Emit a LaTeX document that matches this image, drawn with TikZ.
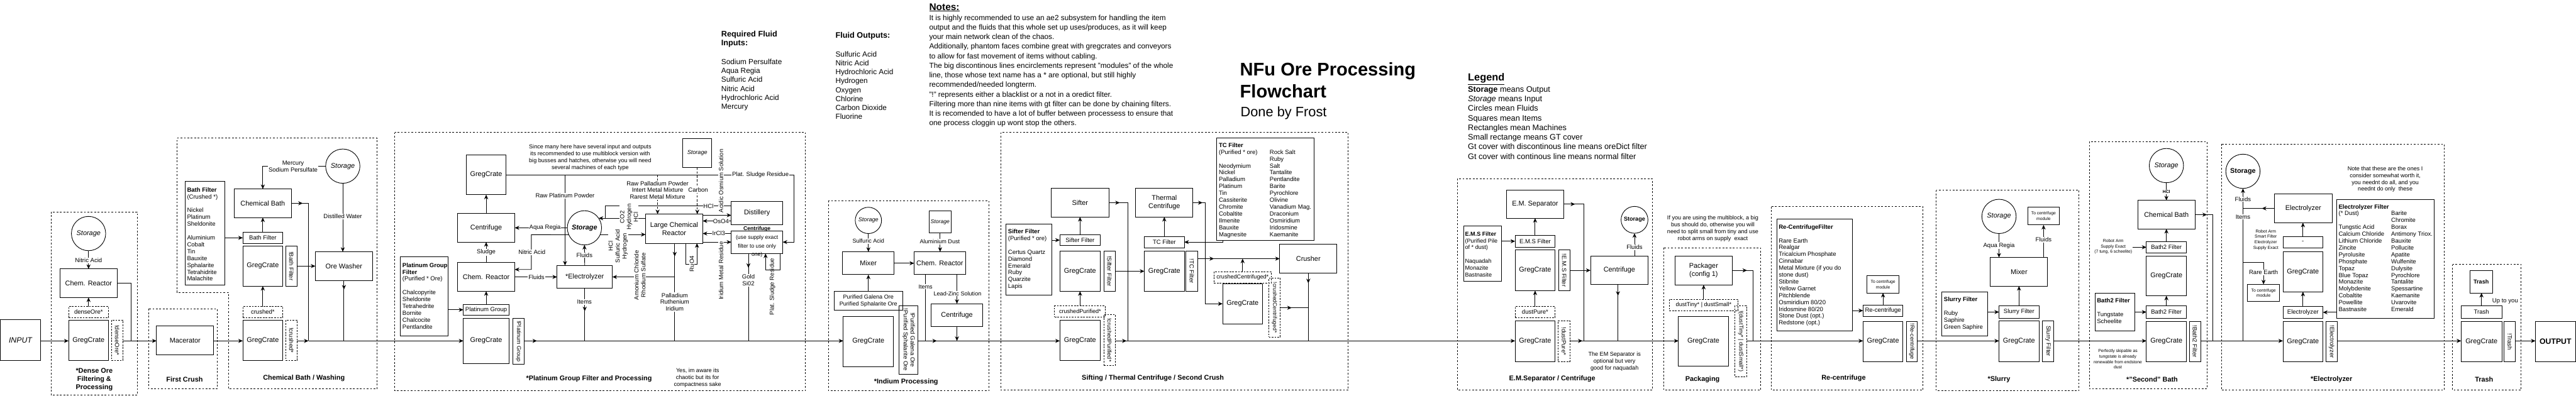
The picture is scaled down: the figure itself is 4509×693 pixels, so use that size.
\documentclass[tikz,border=0pt]{standalone}
\usepackage{fontspec}
\setmainfont{Liberation Sans}
\usetikzlibrary{arrows.meta,decorations.markings}
\newcommand{\myfs}[2]{\fontsize{#1}{#2}\selectfont}
\newcommand{\NB}[7]{%
  \pgfmathsetmacro\nbw{#4-#2}\pgfmathsetmacro\nbh{#5-#3}%
  \pgfmathsetmacro\nbx{(#2+#4)/2}\pgfmathsetmacro\nby{(#3+#5)/2}%
  \node[#6, minimum width=\nbw pt, minimum height=\nbh pt] (#1) at (\nbx,\nby) {#7};}
\newcommand{\RT}[3]{\node[rot,#3] (#1t) at (#1.center) {#2};}
\begin{document}
\begin{tikzpicture}[x=1pt,y=-1pt,line width=1pt,
 bx/.style={draw,line width=1pt,inner sep=1pt,outer sep=0pt,align=center,font=\myfs{12}{14.5}},
 cov/.style={draw,line width=1pt,inner sep=0.5pt,outer sep=0pt,align=center,font=\myfs{10.5}{12}},
 dcov/.style={cov,dash pattern=on 3pt off 2pt},
 grp/.style={draw,line width=0.9pt,dash pattern=on 3pt off 3pt},
 stc/.style={draw,circle,line width=1pt,inner sep=0pt,outer sep=0pt,font=\myfs{12}{14}\itshape},
 arr/.style={-{Stealth[length=8pt,width=7pt]}},
 marrow/.style={postaction={decorate},decoration={markings,mark=at position #1 with {\arrow{Stealth[length=8pt,width=7pt]}}}},
 lbl/.style={fill=white,inner sep=1pt,align=center,font=\myfs{10.5}{12}},
 rlbl/.style={lbl,rotate=90},
 sec/.style={align=center,font=\myfs{12}{14.5}\bfseries},
 lst/.style={anchor=base west,inner sep=0pt,font=\myfs{10.5}{12}},
 rot/.style={rotate=-90,inner sep=0pt,align=center,font=\myfs{10.5}{12}},
 notetxt/.style={align=center,inner sep=0pt,font=\myfs{10}{12}},
 smalltxt/.style={align=center,inner sep=0pt,font=\myfs{7.5}{9.5}}]
\fill[white] (0,0) rectangle (4509,693);
\useasboundingbox (0,0) rectangle (4509,693);
\coordinate (ML) at (0,597);

% ================= header texts
\node[lst,font=\myfs{14}{16}\bfseries] (rfih) at (1262,64) {\begin{tabular}[t]{@{}l@{}}Required Fluid\\Inputs:\end{tabular}};
\node[lst,font=\myfs{13}{15.7}] (rfil) at (1262,112.6) {\begin{tabular}[t]{@{}l@{}}Sodium Persulfate\\Aqua Regia\\Sulfuric Acid\\Nitric Acid\\Hydrochloric Acid\\Mercury\end{tabular}};
\node[lst,font=\myfs{14}{16}\bfseries] (fouth) at (1462,67) {Fluid Outputs:};
\node[lst,font=\myfs{13}{15.7}] (foutl) at (1462,99.2) {\begin{tabular}[t]{@{}l@{}}Sulfuric Acid\\Nitric Acid\\Hydrochloric Acid\\Hydrogen\\Oxygen\\Chlorine\\Carbon Dioxide\\Fluorine\end{tabular}};
\node[lst,font=\myfs{17}{19}\bfseries] (notesh) at (1626,17.8) {\underline{Notes:}};
\node[lst,font=\myfs{13}{16.8}] (notes) at (1626,35.3) {\begin{tabular}[t]{@{}l@{}}It is highly recommended to use an ae2 subsystem for handling the item\\output and the fluids that this whole set up uses/produces, as it will keep\\your main network clean of the chaos.\\Additionally, phantom faces combine great with gregcrates and conveyors\\to allow for fast movement of items without cabling.\\The big discontinous lines encirclements represent "modules" of the whole\\line, those whose text name has a * are optional, but still highly\\recommended/needed longterm.\\"!" represents either a blacklist or a not in a oredict filter.\\Filtering more than nine items with gt filter can be done by chaining filters.\\It is recomended to have a lot of buffer between processess to ensure that\\one process cloggin up wont stop the others.\end{tabular}};
\node[lst,font=\myfs{32}{38}\bfseries] (title) at (2170,133) {\begin{tabular}[t]{@{}l@{}}NFu Ore Processing\\Flowchart\end{tabular}};
\node[lst,font=\myfs{24}{28}] (subt) at (2171,204) {Done by Frost};
\node[lst,font=\myfs{18}{20}\bfseries] (legh) at (2569,142) {\underline{Legend}};
\node[lst,font=\myfs{14}{16.8}] (legl) at (2569,161) {\begin{tabular}[t]{@{}l@{}}\textbf{Storage} means Output\\\textit{Storage} means Input\\Circles mean Fluids\\Squares mean Items\\Rectangles mean Machines\\Small rectange means GT cover\\Gt cover with discontinous line means oreDict filter\\Gt cover with continous line means normal filter\end{tabular}};

% ================= 1 Dense ore
\NB{input}{0.5}{560}{71}{631}{bx,font=\myfs{13.5}{15}\itshape}{INPUT}
\draw[grp] (90,371) rectangle (240,692);
\node[stc,minimum size=60pt] (st1) at (155,409) {Storage};
\NB{cr1}{105}{471}{205}{521}{bx}{Chem. Reactor}
\NB{f1}{120}{537}{190}{556}{dcov}{denseOre*}
\NB{gc1}{120}{561}{190}{631}{bx}{GregCrate}
\NB{nf1}{195}{561}{215}{631}{dcov}{}
\RT{nf1}{!denseOre*}{}
\node[sec] (s1) at (165,665) {*Dense Ore\\Filtering \&\\Processing};
\draw[arr] (st1.south) -- (cr1.north);
\node[lbl] (l1) at (155,456) {Nitric Acid};
\draw[arr] (f1.north) -- (cr1.south);
\coordinate (j1) at (230,597);
\draw (cr1.east) -| (j1);

% ================= 2 First crush
\draw[grp] (260,541) rectangle (380,681);
\NB{mac}{274}{571}{374}{621}{bx}{Macerator}
\node[sec] (s2) at (323,664) {First Crush};

% ================= 3 Chemical bath
\draw[grp] (310,242) -- (660,242) -- (660,681) -- (400,681) -- (400,512) -- (310,512) -- cycle;
\NB{bfl}{324}{318}{394}{499}{bx}{}
\node[lst] (bflt) at (327,336) {\begin{tabular}[t]{@{}l@{}}\textbf{Bath Filter}\\(Crushed *)\\ \\Nickel\\Platinum\\Sheldonite\\ \\Aluminium\\Cobalt\\Tin\\Bauxite\\Sphalarite\\Tetrahidrite\\Malachite\end{tabular}};
\NB{cb}{410}{331}{510}{381}{bx}{Chemical Bath}
\node[stc,minimum size=60pt] (st2) at (600,291) {Storage};
\NB{bfc}{425}{407}{495}{426}{cov}{Bath Filter}
\NB{gc2}{425}{431}{495}{501}{bx}{GregCrate}
\NB{nbf}{500}{431}{520}{501}{cov}{}
\RT{nbf}{!Bath Filter}{}
\NB{ow}{552}{441}{652}{491}{bx}{Ore Washer}
\NB{f2}{425}{537}{495}{556}{dcov}{crushed*}
\NB{gc3}{425}{561}{495}{631}{bx}{GregCrate}
\NB{ncr}{500}{561}{520}{631}{dcov}{}
\RT{ncr}{!crushed*}{}
\node[sec] (s3) at (532,662) {Chemical Bath / Washing};
\draw[arr] (st2.west) -| (cb.north);
\node[lbl] (l2) at (513,291) {Mercury\\Sodium Persulfate};
\draw[arr] (st2.south) -- (st2.south |- ow.north);
\node[lbl] (l3) at (600,379) {Distilled Water};
\draw[arr] (bfl.east |- bfc.west) -- (bfc.west);
\draw[arr] (bfc.north) -- (cb.south);
\draw[arr] (nbf.east) -- (ow.west);
\draw[arr] (f2.north) -- (gc2.south);
\coordinate (j2) at (540,597);
\draw[marrow=20pt] (cb.east) -| (j2);
\draw[marrow=16pt] (ow.south) -- (ow.south |- ML);

% ================= 4 Platinum group
\draw[grp] (691,232) rectangle (1410,684);
\NB{gc4t}{816}{271}{886}{341}{bx}{GregCrate}
\NB{cf4}{801}{374}{901}{424}{bx}{Centrifuge}
\NB{cr4}{801}{460}{901}{510}{bx}{Chem. Reactor}
\NB{pgc}{811}{533}{891}{552}{cov}{Platinum Group}
\NB{pgl}{701}{450}{784}{588}{bx}{}
\node[lst] (pglt) at (704,468) {\begin{tabular}[t]{@{}l@{}}\textbf{Platinum Group}\\\textbf{Filter}\\(Purified * Ore)\\ \\Chalcopyrite\\Sheldonite\\Tetrahedrite\\Bornite\\Chalcocite\\Pentlandite\end{tabular}};
\NB{gc4}{811}{557}{891}{637}{bx}{GregCrate}
\NB{npg}{898}{558}{917}{638}{cov}{}
\RT{npg}{!Platinum Group}{font=\myfs{10}{12}}
\node[stc,minimum size=60pt,font=\myfs{12}{14}\bfseries\itshape] (st4) at (1023,399) {Storage};
\NB{el4}{975}{465}{1072}{505}{bx}{*Electrolyzer}
\NB{lcr}{1130}{375}{1230}{426}{bx}{Large Chemical\\Reactor}
\NB{dist}{1280}{353}{1370}{393}{bx}{Distillery}
\NB{cf42}{1280}{404}{1370}{444}{bx}{}
\node[align=center,inner sep=0pt,font=\myfs{9.5}{15}] (cf42t) at (1325,424) {\textbf{Centrifuge}\\(use supply exact\\filter to use only\\one)};
\NB{sq4}{1195}{243}{1246}{293}{bx,font=\myfs{10}{12}\itshape}{Storage}
\node[notetxt] (n4) at (1033,276) {Since many here have several input and outputs\\its recommended to use multiblock version with\\big busses and hatches, otherwise you will need\\several machines of each type};
\node[sec] (s4) at (1031,664) {*Platinum Group Filter and Processing};
\node[notetxt] (n4b) at (1221,662) {Yes, im aware its\\chaotic but its for\\compactness sake};
\draw[arr] (cf4.north) -- (gc4t.south);
\draw[arr] (cr4.north) -- (cf4.south);
\node[lbl] (l4) at (851,442) {Sludge};
\draw[arr] (pgc.north) -- (cr4.south);
\draw[arr] (pgl.east |- pgc.west) -- (pgc.west);
\draw[arr] (st4.west) -- (cf4.east);
\node[lbl] (l5) at (954,399) {Aqua Regia};
\coordinate (nA) at (930,411);
\coordinate (nB) at (930,472);
\draw[arr] (st4.204) -- (nA) -- (nB) -- (cr4.east |- nB);
\node[lbl] (l6) at (931,442) {Nitric Acid};
\draw[arr] (cr4.east) -- (el4.west);
\node[lbl] (l7) at (939,486) {Fluids};
\draw[arr] (el4.north) -- (st4.south);
\node[lbl] (l8) at (1023,447) {Fluids};
\draw[marrow=40pt] (el4.south) -- (el4.south |- ML);
\node[lbl] (l9) at (1023,529) {Items};
\coordinate (tl) at (1390,306);
\draw[arr] (gc4t.east) -- (tl) |- (cf42.east);
\coordinate (rpp) at (989,306);
\draw[arr] (rpp) -- (rpp |- el4.north);
\node[lbl] (l10) at (989,343) {Raw Platinum Powder};
\coordinate (rpd) at (1151,306);
\draw[arr,dash pattern=on 4pt off 3pt] (rpd) -- (rpd |- lcr.north);
\draw[arr,dash pattern=on 4pt off 3pt] (sq4.south) -- (sq4.south |- lcr.north);
\node[lbl] (l11) at (1151,333) {Raw Palladium Powder\\Intert Metal Mixture\\Rarest Metal Mixture};
\node[lbl] (l12) at (1222,333) {Carbon};
\draw[arr] (st4.-23) -- (lcr.west |- st4.-23);
\node[rlbl] (l13) at (1082,431) {HCl\\Sulfuric Acid\\Hydrogen};
\draw[arr] (lcr.west |- st4.34) -- (st4.34);
\coordinate (hA) at (1060,361);
\coordinate (hB) at (1060,382);
\draw (dist.west |- hA) -- (hA) -- (hB);
\node[rlbl] (l14) at (1101,380) {CO2\\Hydrogen\\HCl};
\node[lbl] (l15) at (1240,361) {HCl};
\draw[arr] (lcr.east |- 0,377) -- (dist.west |- 0,377);
\draw[arr] (dist.west |- 0,387) -- (lcr.east |- 0,387);
\draw[arr] (cf42.west |- 0,409) -- (lcr.east |- 0,409);
\draw[arr] (lcr.east |- 0,424) -- (cf42.west |- 0,424);
\node[lbl] (l16) at (1331,306) {Plat. Sludge Residue};
\node[rlbl] (l17) at (1262,317) {Acidic Osmium Solution};
\node[lbl,inner sep=0.5pt] (l18) at (1262,388) {OsO4};
\node[lbl,inner sep=0.5pt] (l19) at (1258,409) {IrCl3};
\node[rlbl] (l20) at (1262,474) {Iridium Metal Residue};
\coordinate (ru1) at (1200,463);
\coordinate (ru2) at (1220,463);
\draw[arr] (lcr.south -| ru1) -- (ru1) -- (ru2) -- (lcr.south -| ru2);
\node[rlbl] (l21) at (1211,462) {RuO4};
\coordinate (pd) at (1181,485);
\draw[marrow=23pt] (lcr.south -| pd) -- (pd |- ML);
\draw[arr] (pd) -- (el4.east);
\node[rlbl] (l22) at (1120,482) {Amonium Chloride\\Rhodium Sulfate};
\node[lbl] (l23) at (1181,529) {Palladium\\Ruthenium\\Iridium};
\coordinate (au) at (1310,597);
\draw[marrow=25pt] (cf42.south -| au) -- (au);
\node[lbl] (l24) at (1310,491) {Gold\\Si02};
\coordinate (ps1) at (1365,473);
\coordinate (ps2) at (1340,473);
\draw[arr] (cf42.south -| ps1) -- (ps1) -- (ps2) -- (cf42.south -| ps2);
\node[rotate=90,inner sep=0pt,font=\myfs{10.5}{12}] (l25) at (1352,502) {Plat. Sludge Residue};

% ================= 5 Indium
\draw[grp] (1450,352) rectangle (1731,684);
\node[stc,minimum size=46pt,font=\myfs{10}{12}\itshape] (st5) at (1520,386) {Storage};
\NB{mx5}{1475}{441}{1565}{481}{bx}{Mixer}
\NB{sq5}{1626}{369}{1665}{408}{bx,font=\myfs{9.5}{11}\itshape}{Storage}
\NB{cr5}{1600}{441}{1690}{481}{bx}{Chem. Reactor}
\NB{pgb}{1460}{510}{1580}{543}{bx,font=\myfs{10}{12}}{Purified Galena Ore\\Purified Sphalarite Ore}
\NB{gc5}{1476}{554}{1564}{642}{bx}{GregCrate}
\NB{npu}{1574}{535}{1607}{655}{cov}{}
\RT{npu}{!Purified Galena Ore\\!Purified Sphalarite Ore}{}
\NB{cf5}{1630}{532}{1720}{572}{bx}{Centrifuge}
\node[sec] (s5) at (1586,669) {*Indium Processing};
\draw[arr] (st5.south) -- (mx5.north);
\node[lbl,font=\myfs{10}{12}] (l26) at (1520,422) {Sulfuric Acid};
\draw[arr] (sq5.south) -- (sq5.south |- cr5.north);
\node[lbl,font=\myfs{10}{12}] (l27) at (1645,423) {Aluminium Dust};
\draw[arr] (mx5.east) -- (cr5.west);
\draw[arr] (pgb.north) -- (mx5.south);
\coordinate (it5) at (1620,597);
\draw (cr5.south -| it5) -- (it5);
\node[lbl,font=\myfs{10}{12}] (l28) at (1620,502) {Items};
\draw[arr] (cr5.south -| cf5.north) -- (cf5.north);
\node[lbl,font=\myfs{10}{12}] (l29) at (1676,514) {Lead-Zinc Solution};
\draw[arr] (cf5.south) -- (cf5.south |- ML);

% ================= 6 Sifting
\draw[grp] (1752,232) rectangle (2360,683);
\NB{sfl}{1761}{392}{1841}{517}{bx}{}
\node[lst] (sflt) at (1764,409) {\begin{tabular}[t]{@{}l@{}}\textbf{Sifter Filter}\\(Purified * ore)\\ \\Certus Quartz\\Diamond\\Emerald\\Ruby\\Quarzite\\Lapis\end{tabular}};
\NB{sif}{1840}{330}{1941}{380}{bx}{Sifter}
\NB{sfc}{1855}{411}{1926}{430}{cov}{Sifter Filter}
\NB{gc6}{1855}{440}{1926}{510}{bx}{GregCrate}
\NB{nsf}{1932}{440}{1952}{510}{cov}{}
\RT{nsf}{!Sifter Filter}{}
\NB{cpf}{1846}{536}{1935}{555}{dcov,font=\myfs{10}{12}}{crushedPurified*}
\NB{gc7}{1855}{561}{1926}{631}{bx}{GregCrate}
\NB{ncp}{1932}{551}{1952}{640}{dcov}{}
\RT{ncp}{!crushedPurified*}{font=\myfs{10}{12}}
\NB{tc}{1988}{330}{2088}{380}{bx}{Thermal\\Centrifuge}
\NB{tcc}{2003}{414}{2073}{434}{cov}{TC Filter}
\NB{gc8}{2003}{440}{2073}{510}{bx}{GregCrate}
\NB{ntc}{2076}{440}{2096}{510}{cov}{}
\RT{ntc}{!TC Filter}{}
\NB{tcl}{2130}{242}{2300}{421}{bx}{}
\node[lst] (tclt) at (2133,258) {\begin{tabular}[t]{@{}p{89pt}@{}l@{}}\textbf{TC Filter}&\\(Purified * ore)&Rock Salt\\ &Ruby\\Neodymium&Salt\\Nickel&Tantalite\\Palladium&Pentlandite\\Platinum&Barite\\Tin&Pyrochlore\\Cassiterite&Olivine\\Chromite&Vanadium Mag.\\Cobaltite&Draconium\\Ilmenite&Osmiridium\\Bauxite&Iridosmine\\Magnesite&Kaemanite\end{tabular}};
\NB{ccf}{2125}{476}{2225}{496}{dcov,font=\myfs{10}{12}}{crushedCentrifuged*}
\NB{gc9}{2140}{497}{2210}{567}{bx}{GregCrate}
\NB{ncc}{2221}{487}{2241}{590}{dcov}{}
\RT{ncc}{!crushedCentrifuged*}{font=\myfs{9.5}{11}}
\NB{cru}{2240}{428}{2340}{478}{bx}{Crusher}
\node[sec] (s6) at (2018,662) {Sifting / Thermal Centrifuge / Second Crush};
\draw[arr] (sfl.east |- sfc.west) -- (sfc.west);
\draw[arr] (sfc.north) -- (sfc.north |- sif.south);
\draw[arr] (nsf.east) -- (gc8.west);
\draw[arr] (cpf.north) -- (cpf.north |- gc6.south);
\coordinate (j6) at (1974,597);
\draw[marrow=19pt] (sif.east) -| (j6);
\draw[arr] (tcc.north) -- (tcc.north |- tc.south);
\coordinate (tl1) at (2141,424);
\draw[arr] (tcl.south -| tl1) -- (tl1) -- (tcc.east |- tl1);
\coordinate (tc1) at (2110,355);
\draw[arr,marrow=17pt] (tc.east) -- (tc1) |- (gc9.west);
\draw[arr,marrow=29pt] (ntc.east |- cru.west) -- (cru.west);
\draw[arr] (ccf.north) -- (ccf.north |- cru.west);
\coordinate (j6b) at (2290,539);
\draw[marrow=20pt] (ncc.east |- j6b) -- (j6b);
\draw[marrow=18pt] (cru.south) -- (cru.south |- ML);

% ================= 7 EM separator
\draw[grp] (2551,313) rectangle (2892,683);
\NB{ems}{2637}{333}{2737}{382}{bx}{E.M. Separator}
\NB{emsl}{2562}{396}{2628}{493}{bx}{}
\node[lst,font=\myfs{10}{12}] (emslt) at (2564,413) {\begin{tabular}[t]{@{}l@{}}\textbf{E.M.S Filter}\\(Purified Pile\\of * dust)\\ \\Naquadah\\Monazite\\Bastnasite\end{tabular}};
\NB{emsc}{2652}{412}{2722}{433}{cov}{E.M.S Filter}
\NB{gc10a}{2652}{438}{2722}{509}{bx}{GregCrate}
\NB{nems}{2728}{438}{2748}{509}{cov}{}
\RT{nems}{!E.M.S Filter}{}
\NB{cf7}{2784}{448}{2885}{498}{bx}{Centrifuge}
\node[stc,minimum size=47pt,font=\myfs{10}{12}\bfseries] (st7) at (2861,385) {Storage};
\NB{dpf}{2652}{537}{2722}{556}{dcov}{dustPure*}
\NB{gc10}{2652}{562}{2722}{633}{bx}{GregCrate}
\NB{ndp}{2727}{562}{2748}{633}{dcov}{}
\RT{ndp}{!dustPure*}{}
\node[notetxt] (n7) at (2826,633) {The EM Separator is\\optional but very\\good for naquadah};
\node[sec] (s7) at (2717,664) {E.M.Separator / Centrifuge};
\draw[arr] (emsl.east |- emsc.west) -- (emsc.west);
\draw[arr] (emsc.north) -- (ems.south);
\draw[arr] (nems.east) -- (nems.east -| cf7.west);
\draw[arr] (st7.south |- cf7.north) -- (st7.south);
\node[lbl] (l30) at (2861,433) {Fluids};
\coordinate (c7) at (2832,597);
\draw[marrow=20pt] (cf7.south -| c7) -- (c7);
\coordinate (j7) at (2772,597);
\draw[marrow=20pt] (ems.east) -| (j7);
\draw[arr] (dpf.north) -- (gc10a.south);

% ================= 8 Packaging
\draw[grp] (2912,434) rectangle (3082,683);
\node[notetxt] (n8) at (2998,400) {If you are using the multiblock, a big\\bus should do, otherwise you will\\need to split small from tiny and use\\robot arms on supply\ \ exact};
\NB{pk}{2932}{448}{3032}{499}{bx}{Packager\\(config 1)}
\NB{dtf}{2922}{524}{3042}{544}{dcov,font=\myfs{10}{12}}{dustTiny* | dustSmall*}
\NB{gc11}{2938}{554}{3025}{641}{bx}{GregCrate}
\NB{ndt}{3037}{535}{3057}{660}{dcov}{}
\RT{ndt}{!(dustTiny* | dustSmall*)}{font=\myfs{10}{12}}
\node[sec] (s8) at (2980,665) {Packaging};
\draw[arr] (dtf.north) -- (dtf.north |- pk.south);
\coordinate (j8) at (3069,597);
\draw[marrow=26pt] (pk.east) -| (j8);

% ================= 9 Re-centrifuge
\draw[grp] (3100,362) rectangle (3366,683);
\NB{rcl}{3110}{384}{3242}{580}{bx}{}
\node[lst] (rclt) at (3113,401) {\begin{tabular}[t]{@{}l@{}}\textbf{Re-CentrifugeFilter}\\ \\Rare Earth\\Realgar\\Tricalcium Phosphate\\Cinnabar\\Metal Mixture (if you do\\stone dust)\\Stibnite\\Yellow Garnet\\Pitchblende\\Osmiridium 80/20\\Iridosmine 80/20\\Stone Dust (opt.)\\Redstone (opt.)\end{tabular}};
\NB{rcc}{3261}{534}{3331}{554}{cov}{Re-centrifuge}
\NB{tcm1}{3268}{483}{3324}{513}{bx,font=\myfs{7.5}{9.5}}{To centrifuge\\module}
\NB{gc12}{3261}{563}{3331}{633}{bx}{GregCrate}
\NB{nrc}{3337}{563}{3356}{633}{cov}{}
\RT{nrc}{!Re-centrifuge}{font=\myfs{10}{12}}
\node[sec] (s9) at (3227,662) {Re-centrifuge};
\draw[arr] (rcl.east |- rcc.west) -- (rcc.west);
\draw[arr] (rcc.north) -- (rcc.north |- tcm1.south);

% ================= 10 Slurry
\draw[grp] (3389,333) rectangle (3639,684);
\node[stc,minimum size=60pt] (st10) at (3499,379) {Storage};
\NB{mx10}{3484}{451}{3584}{501}{bx}{Mixer}
\NB{tcm2}{3549}{363}{3605}{394}{bx,font=\myfs{7.5}{9.5}}{To centrifuge\\module}
\NB{sll}{3399}{511}{3479}{588}{bx}{}
\node[lst] (sllt) at (3402,528) {\begin{tabular}[t]{@{}l@{}}\textbf{Slurry Filter}\\ \\Ruby\\Saphire\\Green Saphire\end{tabular}};
\NB{slc}{3499}{536}{3569}{557}{cov}{Slurry Filter}
\NB{gc13}{3499}{562}{3569}{633}{bx}{GregCrate}
\NB{nsl}{3575}{562}{3595}{633}{cov}{}
\RT{nsl}{Slurry Filter}{}
\node[sec] (s10) at (3499,665) {*Slurry};
\draw[arr] (st10.south) -- (st10.south |- mx10.north);
\node[lbl] (l31) at (3499,430) {Aqua Regia};
\draw[arr] (tcm2.south |- mx10.north) -- (tcm2.south);
\node[lbl] (l32) at (3577,420) {Fluids};
\draw[arr] (sll.east |- slc.west) -- (slc.west);
\draw[arr] (slc.north) -- (slc.north |- mx10.south);

% ================= 11 Second bath
\draw[grp] (3657,248) rectangle (3863,681);
\node[stc,minimum size=60pt] (st11) at (3792,290) {Storage};
\NB{cb11}{3742}{351}{3842}{401}{bx}{Chemical Bath}
\NB{b2c1}{3757}{423}{3827}{443}{cov}{Bath2 Filter}
\node[smalltxt] (rb1) at (3699,432) {Robot Arm\\Supply Exact\\(7 tung, 6 scheelite)};
\NB{gc14}{3757}{448}{3827}{518}{bx}{GregCrate}
\NB{b2c2}{3757}{536}{3827}{557}{cov}{Bath2 Filter}
\NB{b2l}{3667}{513}{3737}{580}{bx}{}
\node[lst] (b2lt) at (3670,530) {\begin{tabular}[t]{@{}l@{}}\textbf{Bath2 Filter}\\ \\Tungstate\\Scheelite\end{tabular}};
\NB{gc15}{3757}{563}{3827}{633}{bx}{GregCrate}
\NB{nb2}{3832}{563}{3852}{633}{cov}{}
\RT{nb2}{!Bath2 Filter}{}
\node[smalltxt] (n11) at (3707,629) {Perfectly skipable as\\tungstate is already\\renewable from endstone\\dust};
\node[sec] (s11) at (3767,664) {*"Second" Bath};
\draw[arr] (st11.south) -- (cb11.north);
\node[lbl,font=\myfs{7.5}{9}\bfseries] (l33) at (3792,336) {HCl};
\draw[arr] (b2c1.north) -- (cb11.south);
\draw[arr] (rb1.east |- b2c1.west) -- (b2c1.west);
\draw[arr] (b2c2.north) -- (gc14.south);
\draw[arr] (b2l.east |- b2c2.west) -- (b2c2.west);
\coordinate (j11) at (3873,597);
\draw[marrow=21pt] (cb11.east) -| (j11);

% ================= 12 Electrolyzer
\draw[grp] (3888,252) rectangle (4278,683);
\node[stc,minimum size=60pt,font=\myfs{12}{14}\bfseries] (st12) at (3926,300) {Storage};
\NB{el12}{3981}{340}{4082}{390}{bx}{Electrolyzer}
\node[smalltxt] (rb2) at (3966,420) {Robot Arm\\Smart Filter\\Electrolyzer\\Supply Exact};
\NB{tcm3}{3934}{498}{3990}{528}{bx,font=\myfs{7.5}{9.5}}{To centrifuge\\module}
\NB{dsh}{3996}{414}{4066}{434}{cov}{-}
\NB{gc16}{3996}{441}{4066}{511}{bx}{GregCrate}
\NB{elc}{3996}{537}{4066}{557}{cov}{Electrolyzer}
\NB{ell}{4090}{349}{4261}{557}{bx}{}
\node[lst] (ellt) at (4093,365.5) {\begin{tabular}[t]{@{}p{92pt}@{}l@{}}\textbf{Electrolyzer Filter}&\\(* Dust)&Barite\\ &Chromite\\Tungstic Acid&Borax\\Calcium Chloride&Antimony Triox.\\Lithium Chloride&Bauxite\\Zincite&Pollucite\\Pyrolusite&Apatite\\Phosphate&Wulfenite\\Topaz&Dulysite\\Blue Topaz&Pyrochlore\\Monazite&Tantalite\\Molybdenite&Spessartine\\Cobaltite&Kaemanite\\Powellite&Uvarovite\\Bastnasite&Emerald\end{tabular}};
\node[notetxt] (n12) at (4175,314) {Note that these are the ones I\\consider somewhat worth it,\\you neednt do all, and you\\neednt do only\ \ these};
\NB{gc17}{3996}{563}{4066}{634}{bx}{GregCrate}
\NB{nel}{4071}{563}{4091}{634}{cov}{}
\RT{nel}{!Electrolyzer}{}
\node[sec] (s12) at (4081,665) {*Electrolyzer};
\coordinate (j12) at (3926,365);
\draw[marrow=22pt] (el12.west) -- (j12);
\draw[arr] (j12) -- (st12.south);
\node[lbl] (l34) at (3926,349) {Fluids};
\coordinate (j12b) at (3926,597);
\draw (j12) -- (j12b);
\node[lbl] (l35) at (3926,380) {Items};
\coordinate (re1) at (3926,460);
\coordinate (re2) at (3962,460);
\draw[arr] (re1) -- (re2) -- (re2 |- tcm3.north);
\node[lbl] (l36) at (3962,477) {Rare Earth};
\draw[arr] (dsh.north) -- (dsh.north |- el12.south);
\draw[arr] (elc.north) -- (gc16.south);
\draw[arr] (ell.west |- elc.east) -- (elc.east);

% ================= 13 Trash
\draw[grp] (4293,463) rectangle (4413,683);
\NB{trb}{4323}{474}{4363}{513}{bx,font=\myfs{10}{12}\bfseries}{Trash}
\NB{trc}{4308}{536}{4379}{557}{cov}{Trash}
\NB{gc18}{4308}{563}{4379}{634}{bx}{GregCrate}
\NB{ntr}{4383}{563}{4403}{634}{cov}{}
\RT{ntr}{!Trash}{}
\NB{outp}{4438}{563}{4508}{634}{bx,font=\myfs{13.5}{15}\bfseries}{OUTPUT}
\node[inner sep=0pt,font=\myfs{10.5}{12}] (utu) at (4385,527) {Up to you};
\node[sec] (s13) at (4348,664) {Trash};
\draw[arr] (trc.north) -- (trc.north |- trb.south);

% ================= main line
\draw[arr] (input.east |- ML) -- (gc1.west |- ML);
\draw[arr] (nf1.east |- ML) -- (mac.west |- ML);
\draw[arr] (mac.east |- ML) -- (gc3.west |- ML);
\draw[arr] (ncr.east |- ML) -- (j2);
\draw[arr] (j2) -- (gc4.west |- ML);
\draw[arr,marrow=23pt] (npg.east |- ML) -- (gc5.west |- ML);
\draw[arr,marrow=33pt] (npu.east |- ML) -- (gc7.west |- ML);
\draw[arr,marrow=20pt] (ncp.east |- ML) -- (gc10.west |- ML);
\draw[arr,marrow=22pt] (ndp.east |- ML) -- (gc11.west |- ML);
\draw[arr] (ndt.east |- ML) -- (gc12.west |- ML);
\draw[arr] (nrc.east |- ML) -- (gc13.west |- ML);
\draw[arr] (nsl.east |- ML) -- (gc15.west |- ML);
\draw[arr] (nb2.east |- ML) -- (gc17.west |- ML);
\draw[arr] (nel.east |- ML) -- (gc18.west |- ML);
\draw[arr] (ntr.east |- ML) -- (outp.west |- ML);
\end{tikzpicture}
\end{document}
